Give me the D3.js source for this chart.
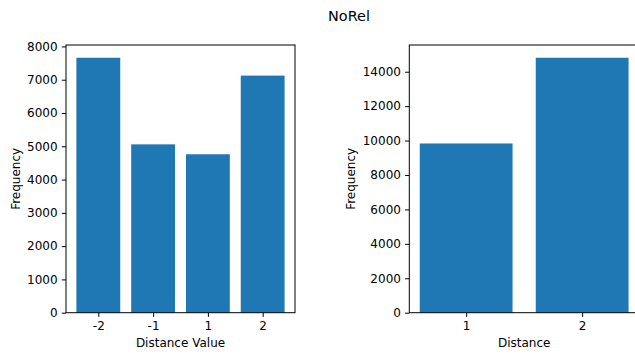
<!DOCTYPE html>
<html>
<head>
<meta charset="utf-8">
<script src="https://cdn.jsdelivr.net/npm/d3@7"></script>
<style>
  html, body { margin: 0; padding: 0; background: #fff; }
  svg { display: block; font-family: "DejaVu Sans", sans-serif; }
</style>
</head>
<body>
<svg id="chart" width="635" height="354"></svg>
<script>
// Distance value histogram (left panel)
const valueCategories = ["-2", "-1", "1", "2"];
const valueCounts = [7660, 5058, 4760, 7123];
const valueTicks = [0, 1000, 2000, 3000, 4000, 5000, 6000, 7000, 8000];

// Absolute distance histogram (right panel)
const distCategories = ["1", "2"];
const distCounts = [9831, 14812];
const distTicks = [0, 2000, 4000, 6000, 8000, 10000, 12000, 14000];

const title = "NoRel";
const barColor = "#1f77b4";
const fs = 12;

const svg = d3.select("#chart");

svg.append("text")
  .attr("x", 349).attr("y", 20.5)
  .attr("text-anchor", "middle")
  .attr("font-size", 14.4)
  .attr("fill", "#000")
  .text(title);

function panel(opts) {
  const { left, width, top, bottom, cats, vals, ticks, xLabel } = opts;
  const n = cats.length;
  // linear x with 5% margins around the bars
  const lo = -0.4, hi = (n - 1) + 0.4, pad = (hi - lo) * 0.05;
  const x = d3.scaleLinear().domain([lo - pad, hi + pad]).range([left, left + width]);
  const y = d3.scaleLinear().domain([0, d3.max(vals) * 1.05]).range([bottom, top]);

  const g = svg.append("g");

  g.selectAll("rect.bar")
    .data(vals)
    .join("rect")
    .attr("class", "bar")
    .attr("x", (d, i) => x(i - 0.4))
    .attr("width", (d, i) => x(i + 0.4) - x(i - 0.4))
    .attr("y", d => y(d))
    .attr("height", d => bottom - y(d))
    .attr("fill", barColor);

  // y axis
  const yAxis = d3.axisLeft(y).tickValues(ticks).tickSize(4.2).tickPadding(4.2).tickFormat(d3.format("d"));
  const ya = g.append("g").attr("transform", `translate(${left},0)`).call(yAxis);
  ya.select(".domain").remove();
  ya.selectAll("line").attr("stroke", "#000").attr("stroke-width", 1);
  ya.selectAll("text").attr("font-size", fs).attr("fill", "#000").attr("font-family", "DejaVu Sans");

  // x axis
  const xAxis = d3.axisBottom(x).tickValues(d3.range(n)).tickSize(4.2).tickPadding(4.2)
    .tickFormat(i => cats[i]);
  const xa = g.append("g").attr("transform", `translate(0,${bottom})`).call(xAxis);
  xa.select(".domain").remove();
  xa.selectAll("line").attr("stroke", "#000").attr("stroke-width", 1);
  xa.selectAll("text").attr("font-size", fs).attr("fill", "#000").attr("font-family", "DejaVu Sans");

  // frame
  g.append("rect")
    .attr("x", left).attr("y", top)
    .attr("width", width).attr("height", bottom - top)
    .attr("fill", "none").attr("stroke", "#000").attr("stroke-width", 1);

  // labels
  g.append("text")
    .attr("x", left + width / 2).attr("y", bottom + 34)
    .attr("text-anchor", "middle").attr("font-size", fs).attr("fill", "#000")
    .text(xLabel);

  g.append("text")
    .attr("transform", `translate(${opts.yLabelX},${(top + bottom) / 2}) rotate(-90)`)
    .attr("text-anchor", "middle").attr("font-size", fs).attr("fill", "#000")
    .text("Frequency");
}

panel({ left: 66, width: 229, top: 45, bottom: 312.7,
        cats: valueCategories, vals: valueCounts, ticks: valueTicks,
        xLabel: "Distance Value", yLabelX: 20 });

panel({ left: 409.3, width: 229.7, top: 45, bottom: 312.7,
        cats: distCategories, vals: distCounts, ticks: distTicks,
        xLabel: "Distance", yLabelX: 355 });
</script>
</body>
</html>
